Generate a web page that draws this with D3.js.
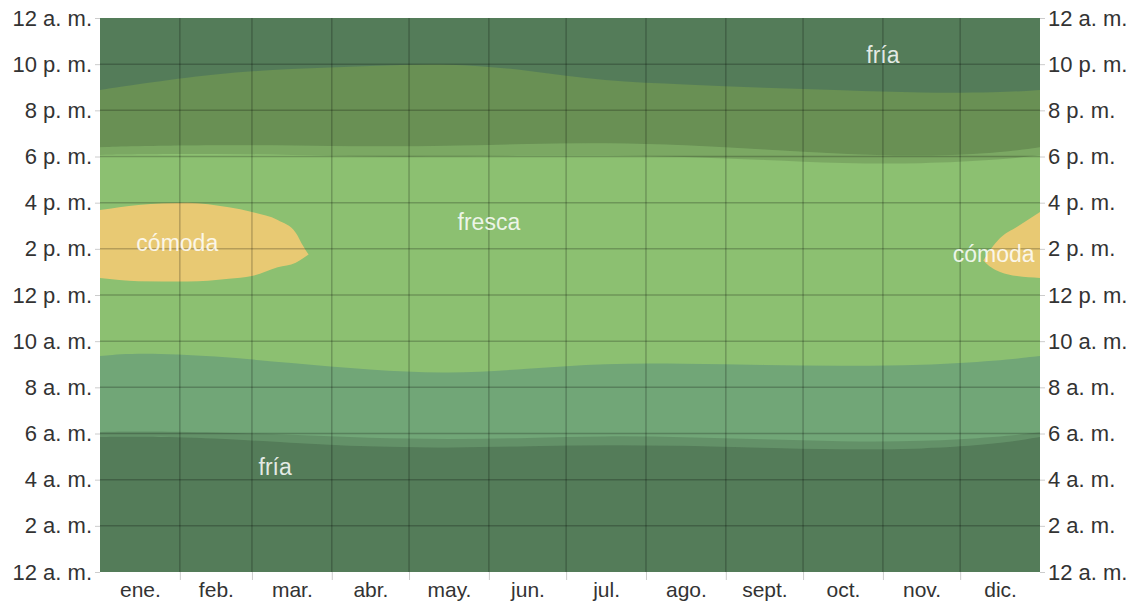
<!DOCTYPE html>
<html>
<head>
<meta charset="utf-8">
<script src="https://cdn.jsdelivr.net/npm/d3@7"></script>
<style>
  body { margin: 0; background: #fff; }
  svg text { font-family: "Liberation Sans", Arial, sans-serif; }
</style>
</head>
<body>
<div id="chart"></div>
<script>
// Day-of-year sample points (mid-month plus both ends)
const sampleDays = [0, 15, 45, 74, 105, 135, 166, 196, 227, 258, 288, 319, 349, 365];

// Hour where "fría" turns into "fresca" in the morning, and back in the evening
const morningCoolHour = [9.36, 9.5, 9.36, 9.05, 8.75, 8.58, 8.8, 9.05, 9.03, 8.97, 8.92, 8.95, 9.15, 9.36];
const eveningColdHour = [20.88, 21.14, 21.6, 21.8, 21.92, 22.05, 21.75, 21.25, 21.13, 20.97, 20.87, 20.75, 20.77, 20.88];

// Night / twilight limits (hours)
const dawnHour = [5.85, 5.87, 5.8, 5.6, 5.42, 5.38, 5.45, 5.5, 5.48, 5.38, 5.3, 5.32, 5.55, 5.85];
const sunriseHour = [6.07, 6.1, 6.05, 5.95, 5.8, 5.75, 5.8, 5.9, 5.85, 5.75, 5.65, 5.65, 5.85, 6.05];
const sunsetHour = [18.07, 18.1, 18.12, 18.07, 18.0, 18.0, 18.05, 18.05, 18.0, 17.85, 17.7, 17.68, 17.85, 18.05];
const duskHour = [18.4, 18.45, 18.5, 18.48, 18.43, 18.45, 18.55, 18.6, 18.5, 18.3, 18.1, 18.0, 18.15, 18.4];

// "cómoda" blobs: day, top hour, bottom hour
const comodaEarly = [
  [0, 15.68, 12.74], [15, 15.9, 12.6], [34, 16.0, 12.58], [50, 15.8, 12.7],
  [59, 15.6, 12.82], [69, 15.25, 13.2], [76, 14.7, 13.4], [79, 14.1, 13.6], [81, 13.75, 13.75]
];
const comodaLate = [
  [343, 13.5, 13.5], [346, 14.0, 13.2], [349.5, 14.47, 13.0], [356, 14.95, 12.82], [365, 15.6, 12.74]
];

const monthStarts = [0, 31, 59, 90, 120, 151, 181, 212, 243, 273, 304, 334, 365];
const monthLabels = ["ene.", "feb.", "mar.", "abr.", "may.", "jun.", "jul.", "ago.", "sept.", "oct.", "nov.", "dic."];
const hourTicks = [0, 2, 4, 6, 8, 10, 12, 14, 16, 18, 20, 22, 24];
const hourLabels = ["12 a. m.", "2 a. m.", "4 a. m.", "6 a. m.", "8 a. m.", "10 a. m.", "12 p. m.",
  "2 p. m.", "4 p. m.", "6 p. m.", "8 p. m.", "10 p. m.", "12 a. m."];

// Band names placed at (day, hour)
const bandLabels = [
  { text: "fría", day: 68, hour: 4.55 },
  { text: "fría", day: 304, hour: 22.4 },
  { text: "fresca", day: 151, hour: 15.16 },
  { text: "cómoda", day: 30, hour: 14.25 },
  { text: "cómoda", day: 347, hour: 13.78 }
];

const colors = { fria: "#71a677", fresca: "#8cc071", comoda: "#e8c973" };

const width = 1136, height = 604;
const margin = { top: 18, right: 96, bottom: 32, left: 100 };
const plotW = width - margin.left - margin.right;
const plotH = height - margin.top - margin.bottom;

const svg = d3.select("#chart").append("svg")
  .attr("width", width)
  .attr("height", height);

const x = d3.scaleLinear().domain([0, 365]).range([margin.left, margin.left + plotW]);
const y = d3.scaleLinear().domain([0, 24]).range([margin.top + plotH, margin.top]);

svg.append("defs").append("clipPath").attr("id", "plotClip")
  .append("rect")
  .attr("x", margin.left).attr("y", margin.top)
  .attr("width", plotW).attr("height", plotH);

const plot = svg.append("g").attr("clip-path", "url(#plotClip)");

// Base: fría everywhere
plot.append("rect")
  .attr("x", margin.left).attr("y", margin.top)
  .attr("width", plotW).attr("height", plotH)
  .attr("fill", colors.fria);

// Helper for bands between two hour series
function bandArea(lowArr, highArr) {
  return d3.area()
    .x((d, i) => x(sampleDays[i]))
    .y0((d, i) => y(lowArr[i]))
    .y1((d, i) => y(highArr[i]))
    .curve(d3.curveBasis)(sampleDays);
}

plot.append("path")
  .attr("d", bandArea(morningCoolHour, eveningColdHour))
  .attr("fill", colors.fresca);

const blobArea = d3.area()
  .x(d => x(d[0]))
  .y0(d => y(d[2]))
  .y1(d => y(d[1]))
  .curve(d3.curveMonotoneX);

[comodaEarly, comodaLate].forEach(blob => {
  plot.append("path").attr("d", blobArea(blob)).attr("fill", colors.comoda);
});

// Night and twilight shading
const zeros = sampleDays.map(() => 0);
const full = sampleDays.map(() => 24);
plot.append("path").attr("d", bandArea(zeros, dawnHour)).attr("fill", "#000").attr("fill-opacity", 0.25);
plot.append("path").attr("d", bandArea(duskHour, full)).attr("fill", "#000").attr("fill-opacity", 0.25);
plot.append("path").attr("d", bandArea(dawnHour, sunriseHour)).attr("fill", "#000").attr("fill-opacity", 0.12);
plot.append("path").attr("d", bandArea(sunsetHour, duskHour)).attr("fill", "#000").attr("fill-opacity", 0.12);

// Grid lines
plot.selectAll(".hgrid")
  .data(hourTicks.slice(1, -1))
  .enter()
  .append("line")
  .attr("x1", margin.left).attr("x2", margin.left + plotW)
  .attr("y1", d => y(d)).attr("y2", d => y(d))
  .attr("stroke", "#000").attr("stroke-opacity", 0.22).attr("stroke-width", 1.5);

plot.selectAll(".vgrid")
  .data(monthStarts.slice(1, -1))
  .enter()
  .append("line")
  .attr("x1", d => x(d)).attr("x2", d => x(d))
  .attr("y1", margin.top).attr("y2", margin.top + plotH)
  .attr("stroke", "#000").attr("stroke-opacity", 0.22).attr("stroke-width", 1.5);

// Band labels
svg.selectAll(".band-label")
  .data(bandLabels)
  .enter()
  .append("text")
  .attr("x", d => x(d.day))
  .attr("y", d => y(d.hour))
  .attr("dy", "0.35em")
  .attr("text-anchor", "middle")
  .attr("fill", "#fff")
  .attr("fill-opacity", 0.85)
  .style("font-size", "23px")
  .text(d => d.text);

// Axes
function styleAxis(size) {
  return g => {
    g.select(".domain").remove();
    g.selectAll(".tick line").attr("stroke", "#ccc");
    g.selectAll(".tick text").attr("fill", "#333").style("font-size", size);
  };
}

svg.append("g")
  .attr("transform", `translate(${margin.left},0)`)
  .call(d3.axisLeft(y).tickValues(hourTicks).tickFormat((d, i) => hourLabels[i]).tickSize(5).tickPadding(3))
  .call(styleAxis("22px"));

svg.append("g")
  .attr("transform", `translate(${margin.left + plotW},0)`)
  .call(d3.axisRight(y).tickValues(hourTicks).tickFormat((d, i) => hourLabels[i]).tickSize(5).tickPadding(3))
  .call(styleAxis("22px"));

svg.append("g")
  .attr("transform", `translate(0,${margin.top + plotH})`)
  .call(d3.axisBottom(x).tickValues(monthStarts.slice(1, -1)).tickFormat("").tickSize(8))
  .call(styleAxis("21px"));

const monthMids = monthStarts.slice(0, -1).map((d, i) => (d + monthStarts[i + 1]) / 2);
svg.append("g")
  .attr("transform", `translate(0,${margin.top + plotH})`)
  .call(d3.axisBottom(x).tickValues(monthMids).tickFormat((d, i) => monthLabels[i]).tickSize(0).tickPadding(10))
  .call(styleAxis("21px"));
</script>
</body>
</html>
